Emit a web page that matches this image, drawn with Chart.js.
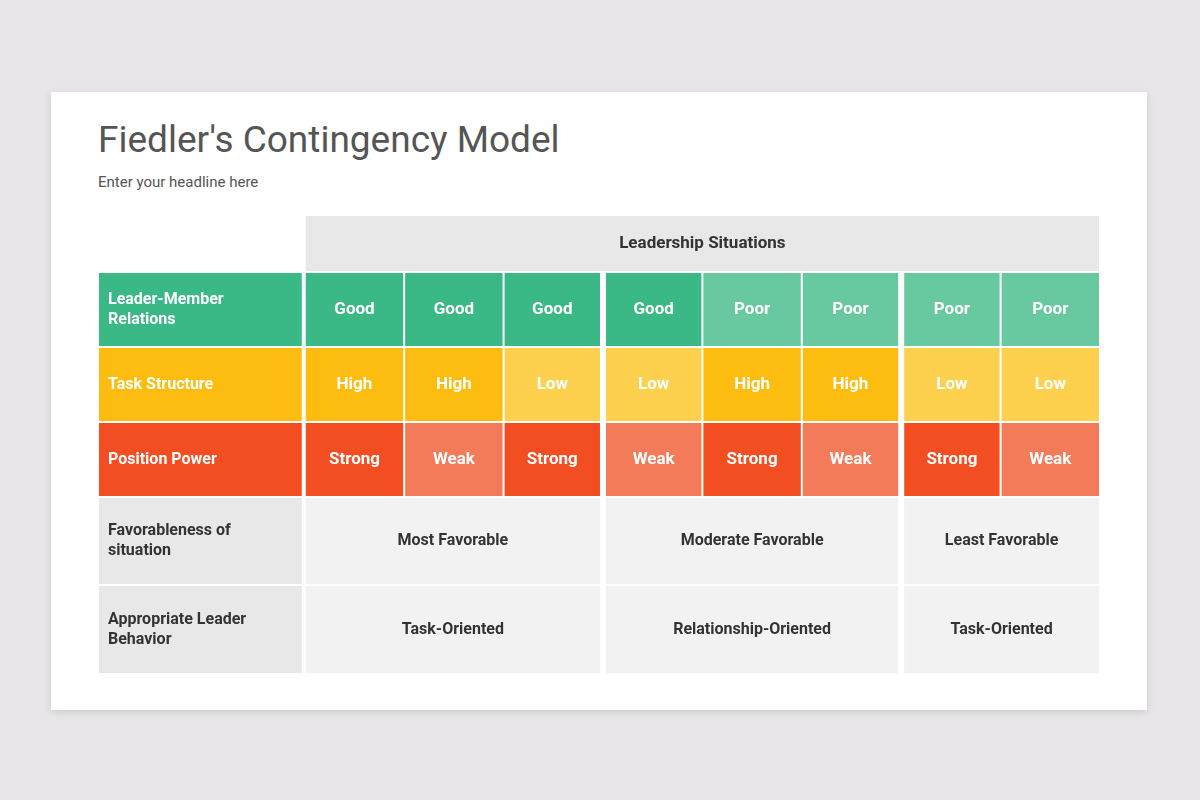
<!DOCTYPE html>
<html>
<head>
<meta charset="utf-8">
<script src="https://cdn.jsdelivr.net/npm/chart.js@4"></script>
<style>
  body { margin: 0; width: 1200px; height: 800px; background: #e8e6e8; font-family: Roboto, sans-serif; position: relative; overflow: hidden; }
  #card { position: absolute; left: 51px; top: 92px; width: 1096px; height: 618px; background: #fff; box-shadow: 0 2px 8px rgba(0,0,0,0.12); }
  h1 { position: absolute; left: 98px; top: 118px; margin: 0; font-weight: 400; font-size: 37px; color: #555; }
  #sub { position: absolute; left: 98px; top: 173px; font-size: 15px; color: #555; }
  #wrap { position: absolute; left: 98px; top: 215px; width: 1002px; height: 459px; }
</style>
</head>
<body>
<div id="card"></div>
<h1>Fiedler's Contingency Model</h1>
<div id="sub">Enter your headline here</div>
<div id="wrap"><canvas id="c" width="1002" height="459"></canvas></div>
<script>
// Datos de la tabla
const headerText = "Leadership Situations";
const rowLabels = ["Leader-Member\nRelations", "Task Structure", "Position Power", "Favorableness of\nsituation", "Appropriate Leader\nBehavior"];
const relations = ["Good", "Good", "Good", "Good", "Poor", "Poor", "Poor", "Poor"];
const structure = ["High", "High", "Low", "Low", "High", "High", "Low", "Low"];
const power = ["Strong", "Weak", "Strong", "Weak", "Strong", "Weak", "Strong", "Weak"];
const groups = [[0, 3], [3, 6], [6, 8]];
const favorableness = ["Most Favorable", "Moderate Favorable", "Least Favorable"];
const behavior = ["Task-Oriented", "Relationship-Oriented", "Task-Oriented"];

// Estilos
const strong = { Good: "#3ab886", Poor: "#68c9a0", High: "#fdbd10", Low: "#fdd04e", Strong: "#f24e22", Weak: "#f47b5a" };
const labelColors = ["#3ab886", "#fdbd10", "#f24e22", "#e8e8e8", "#e8e8e8"];
const rowEdges = [0, 57, 132, 207, 282, 370, 459];

const tablePlugin = {
  id: "table",
  afterDraw(chart) {
    const { ctx, scales: { x, y } } = chart;
    const box = (x0, x1, r, color, gl, gr) => {
      const l = x.getPixelForValue(x0) + 1 + (gl ? 2 : 0);
      const rr = x.getPixelForValue(x1) - 1 - (gr ? 2 : 0);
      const t = y.getPixelForValue(rowEdges[r]) + 1;
      const b = y.getPixelForValue(rowEdges[r + 1]) - 1;
      ctx.fillStyle = color;
      ctx.fillRect(l, t, rr - l, b - t);
      return { l, rr, t, b };
    };
    const text = (str, px, py, color, align, size) => {
      ctx.fillStyle = color;
      ctx.font = "bold " + size + "px Roboto";
      ctx.textAlign = align;
      ctx.textBaseline = "middle";
      const lines = str.split("\n");
      lines.forEach((ln, i) => ctx.fillText(ln, px, py + (i - (lines.length - 1) / 2) * 20));
    };
    const isGroupEdge = (v) => v === 3 || v === 6;

    // Cabecera
    const h = box(0, 8, 0, "#e8e8e8", false, false);
    text(headerText, (h.l + h.rr) / 2, (h.t + h.b) / 2, "#333", "center", 17);

    // Columna de etiquetas
    rowLabels.forEach((lab, r) => {
      const c = box(x.min, 0, r + 1, labelColors[r], false, true);
      text(lab, c.l + 9, (c.t + c.b) / 2, r < 3 ? "#fff" : "#333", "left", 16);
    });

    // Filas de valores
    [relations, structure, power].forEach((vals, r) => {
      vals.forEach((v, i) => {
        const c = box(i, i + 1, r + 1, strong[v], isGroupEdge(i), isGroupEdge(i + 1));
        text(v, (c.l + c.rr) / 2, (c.t + c.b) / 2, "#fff", "center", 17);
      });
    });

    // Filas agrupadas
    [favorableness, behavior].forEach((vals, r) => {
      groups.forEach(([a, b], g) => {
        const c = box(a, b, r + 4, "#f2f2f2", isGroupEdge(a), isGroupEdge(b));
        text(vals[g], (c.l + c.rr) / 2, (c.t + c.b) / 2, "#333", "center", 16);
      });
    });
  }
};

new Chart(document.getElementById("c"), {
  type: "scatter",
  data: { datasets: [{ data: [] }] },
  plugins: [tablePlugin],
  options: {
    responsive: false,
    animation: false,
    layout: { padding: 0 },
    scales: {
      x: { type: "linear", min: -2.08, max: 8, display: false },
      y: { type: "linear", min: 0, max: 459, reverse: true, display: false }
    },
    plugins: { legend: { display: false }, tooltip: { enabled: false } }
  }
});
</script>
</body>
</html>
